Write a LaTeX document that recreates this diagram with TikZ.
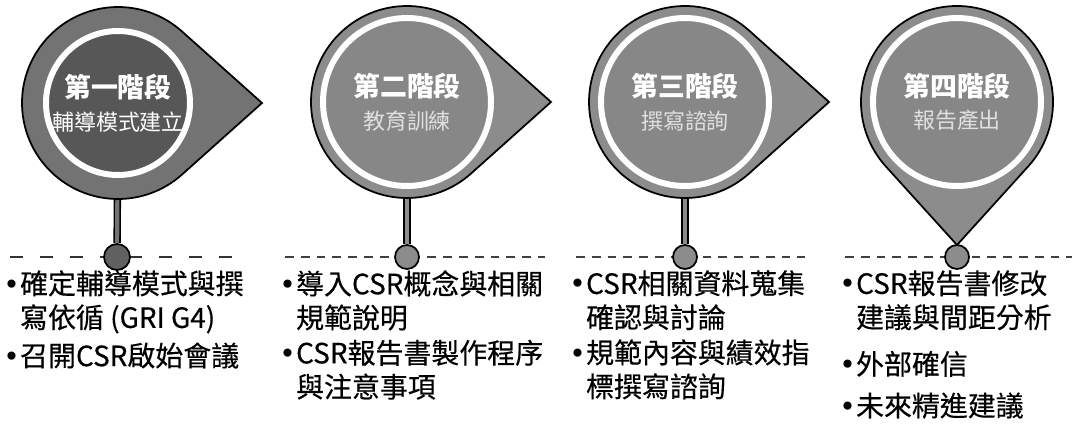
\documentclass[tikz,border=0pt]{standalone}
\usepackage{fontspec}
\setmainfont{Noto Sans CJK TC}
\newfontfamily\bodyfont{Noto Sans CJK TC}[FakeBold=0.4]
\newfontfamily\bulfont{DejaVu Sans}
\usetikzlibrary{positioning}

\newcommand{\bul}{\makebox[0.6em][l]{\bulfont •}}
\newcommand{\ind}{\hspace*{0.6em}}
\newcommand{\subfont}{\fontsize{12.5}{14}\selectfont}

\begin{document}
\begin{tikzpicture}[
    x=0.02cm, y=0.02cm,
    node distance=0.17cm,
    tear/.style={draw=black, line width=1pt, fill=#1},
    stage/.style={circle, draw=white, line width=3.4pt, fill=#1, inner sep=0pt, text=white, align=center, font=\fontsize{15.3}{17.5}\selectfont},
    stalk/.style={line width=0.9pt, draw=black, double=#1, double distance=2.4pt},
    knob/.style={circle, draw=black, line width=1pt, fill=#1, inner sep=0pt},
    thickdash/.style={line width=1.7pt, draw=black!80, dash pattern=on 7.4pt off 9.6pt},
    thindash/.style={line width=1.1pt, draw=black!75, dash pattern=on 5pt off 4pt},
    bullettext/.style={anchor=north west, inner sep=0pt, align=left, font=\bodyfont\fontsize{15.9}{19.3}\selectfont}
]
\useasboundingbox (0,0) rectangle (1074,423);

% centres and tips of the four markers
\coordinate (c1) at (118,320);
\coordinate (c2) at (407,321);
\coordinate (c3) at (685,321);
\coordinate (c4) at (957,321);
\coordinate (t1) at (262,320);
\coordinate (t2) at (551,321);
\coordinate (t3) at (829,321);
\coordinate (t4) at (957,178);

% dashed base lines
\draw[thickdash] (10,166) -- (232,166);
\draw[thindash] (285,166) -- (545,166);
\draw[thindash] (576,166) -- (805,166);
\draw[thindash] (845,166) -- (1072,166);

% knobs on the line
\node[knob=black!62, minimum size=0.52cm] (knob1) at (117,166) {};
\node[knob=black!45, minimum size=0.48cm] (knob2) at (407,166) {};
\node[knob=black!45, minimum size=0.48cm] (knob3) at (685,166) {};

% stems
\draw[stalk=black!55] (c1) -- (knob1);
\draw[stalk=black!45] (c2) -- (knob2);
\draw[stalk=black!45] (c3) -- (knob3);

% marker shapes
\draw[tear=black!55] (c1) ++(48.5:96) arc[start angle=48.5, end angle=311.5, radius=96] -- (t1) -- cycle;
\draw[tear=black!45] (c2) ++(48.5:96) arc[start angle=48.5, end angle=311.5, radius=96] -- (t2) -- cycle;
\draw[tear=black!45] (c3) ++(48.5:96) arc[start angle=48.5, end angle=311.5, radius=96] -- (t3) -- cycle;
\draw[tear=black!45] (c4) ++(-42:96) arc[start angle=-42, end angle=222, radius=96] -- (t4) -- cycle;
\node[knob=black!45, minimum size=0.48cm] (knob4) at (957,166) {};

% stage circles
\node[stage=black!66, minimum size=2.88cm] (stage1) at (c1) {\bfseries 第一階段\\[1pt]{\subfont 輔導模式建立}};
\node[stage=black!47, minimum size=3.36cm] (stage2) at (c2) {\bfseries 第二階段\\[1pt]{\subfont\mdseries\color{black!12} 教育訓練}};
\node[stage=black!47, minimum size=3.36cm] (stage3) at (c3) {\bfseries 第三階段\\[1pt]{\subfont\mdseries\color{black!12} 撰寫諮詢}};
\node[stage=black!47, minimum size=3.36cm] (stage4) at (c4) {\bfseries 第四階段\\[1pt]{\subfont\mdseries\color{black!12} 報告產出}};

% bullet texts
\node[bullettext] (b1a) at (3,153) {\bul 確定輔導模式與撰\\\ind 寫依循 (GRI G4)};
\node[bullettext, below=of b1a.south west, anchor=north west] (b1b) {\bul 召開CSR啟始會議};

\node[bullettext] (b2a) at (279,153) {\bul 導入CSR概念與相關\\\ind 規範說明};
\node[bullettext, below=of b2a.south west, anchor=north west] (b2b) {\bul CSR報告書製作程序\\\ind 與注意事項};

\node[bullettext] (b3a) at (569,153) {\bul CSR相關資料蒐集\\\ind 確認與討論};
\node[bullettext, below=of b3a.south west, anchor=north west] (b3b) {\bul 規範內容與績效指\\\ind 標撰寫諮詢};

\node[bullettext] (b4a) at (839,153) {\bul CSR報告書修改\\\ind 建議與間距分析};
\node[bullettext, below=0.4cm of b4a.south west, anchor=north west] (b4b) {\bul 外部確信};
\node[bullettext, below=0.3cm of b4b.south west, anchor=north west] (b4c) {\bul 未來精進建議};

\end{tikzpicture}
\end{document}
